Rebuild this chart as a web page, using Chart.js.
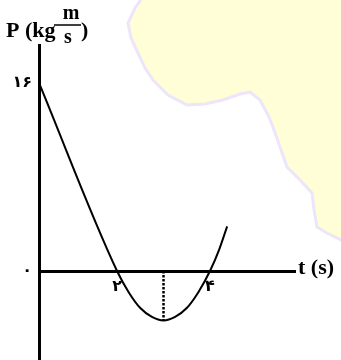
<!DOCTYPE html>
<html>
<head>
<meta charset="utf-8">
<script src="https://cdn.jsdelivr.net/npm/chart.js@4.4.1/dist/chart.umd.min.js"></script>
<style>
  html, body { margin: 0; padding: 0; background: #fff; }
  #wrap { position: relative; width: 341px; height: 360px; }
  #bg, #c { position: absolute; left: 0; top: 0; }
</style>
</head>
<body>
<div id="wrap">
  <!-- faint map watermark behind the chart -->
  <svg id="bg" width="341" height="360">
    <path d="M142,-2 L135,8 L128,23 L131,38 L138,53 L145,68 L153,80 L168,95 L187,105 L205,104 L223,100 L240,94 L250,92 L260,100 L268,115 L273,127 L280,147 L287,167 L300,180 L312,193 L314,210 L317,227 L327,233 L341,240 L345,240 L345,-2 Z"
          fill="#fffed6" stroke="#ede5fb" stroke-width="3"/>
  </svg>
  <canvas id="c" width="341" height="360"></canvas>
</div>
<script>
// curve: P (kg m/s) against t (s)
const curveT = [0.32, 2.0, 2.25, 2.5, 2.75, 3.0, 3.25, 3.5, 3.75, 4.0, 4.2, 4.37];
const curveP = [16, 0, -1.8, -3.15, -3.9, -4.2, -3.9, -3.15, -1.8, 0, 1.85, 3.8];

// dotted drop line at the minimum
const dropT = [3, 3];
const dropP = [0, -4.2];

// tick values and their (Persian) labels
const xTicks = [2, 4];
const xTickLabels = ['۲', '۴'];
const yTicks = [0, 16];
const yTickLabels = ['۰', '۱۶'];

const tickFont = { family: 'DejaVu Sans, Noto Sans', size: 16, weight: 'bold' };

// axis titles drawn as text on the canvas
const axisTitles = {
  id: 'axisTitles',
  afterDraw(chart) {
    const ctx = chart.ctx;
    ctx.save();
    ctx.fillStyle = '#000';
    ctx.strokeStyle = '#000';
    ctx.textBaseline = 'alphabetic';
    ctx.textAlign = 'left';
    ctx.font = 'bold 22px "Liberation Serif"';
    ctx.fillText('P (kg', 6, 37);
    ctx.fillText(')', 81, 37);
    ctx.textAlign = 'center';
    ctx.font = 'bold 20px "Liberation Serif"';
    ctx.fillText('m', 71, 19);
    ctx.fillText('s', 68, 43);
    ctx.lineWidth = 1.5;
    ctx.beginPath();
    ctx.moveTo(54, 25);
    ctx.lineTo(81, 25);
    ctx.stroke();
    ctx.textAlign = 'left';
    ctx.font = 'bold 22px "Liberation Serif"';
    ctx.fillText('t (s)', 298, 274);
    ctx.restore();
  }
};

new Chart(document.getElementById('c'), {
  type: 'line',
  data: {
    datasets: [
      {
        data: curveT.map((t, i) => ({ x: t, y: curveP[i] })),
        borderColor: '#000', borderWidth: 2, pointRadius: 0,
        cubicInterpolationMode: 'monotone', fill: false
      },
      {
        data: dropT.map((t, i) => ({ x: t, y: dropP[i] })),
        borderColor: '#000', borderWidth: 2.5, borderDash: [2.5, 1.5], pointRadius: 0, fill: false
      }
    ]
  },
  options: {
    responsive: false,
    animation: false,
    devicePixelRatio: 1,
    layout: { padding: { left: 0, top: 45, right: 46, bottom: 0 } },
    plugins: { legend: { display: false }, tooltip: { enabled: false } },
    scales: {
      x: {
        type: 'linear', min: 0.32, max: 5.83,
        position: { y: 0 },
        grid: { display: false, drawTicks: false },
        border: { display: true, color: '#000', width: 3 },
        afterBuildTicks: s => { s.ticks = xTicks.map(v => ({ value: v })); },
        afterFit: s => { s.height = 0; s.paddingLeft = 0; s.paddingRight = 0; },
        ticks: {
          color: '#000', font: tickFont, padding: 6, maxRotation: 0, autoSkip: false,
          callback: v => xTickLabels[xTicks.indexOf(v)]
        }
      },
      y: {
        type: 'linear', min: -7.57, max: 19.23,
        position: 'left',
        grid: { display: false, drawTicks: false },
        border: { display: true, color: '#000', width: 3 },
        afterBuildTicks: s => { s.ticks = yTicks.map(v => ({ value: v })); },
        afterFit: s => { s.width = 39; s.paddingTop = 0; s.paddingBottom = 0; },
        ticks: {
          color: '#000', font: tickFont, padding: 7, autoSkip: false,
          callback: v => yTickLabels[yTicks.indexOf(v)]
        }
      }
    }
  },
  plugins: [axisTitles]
});
</script>
</body>
</html>
